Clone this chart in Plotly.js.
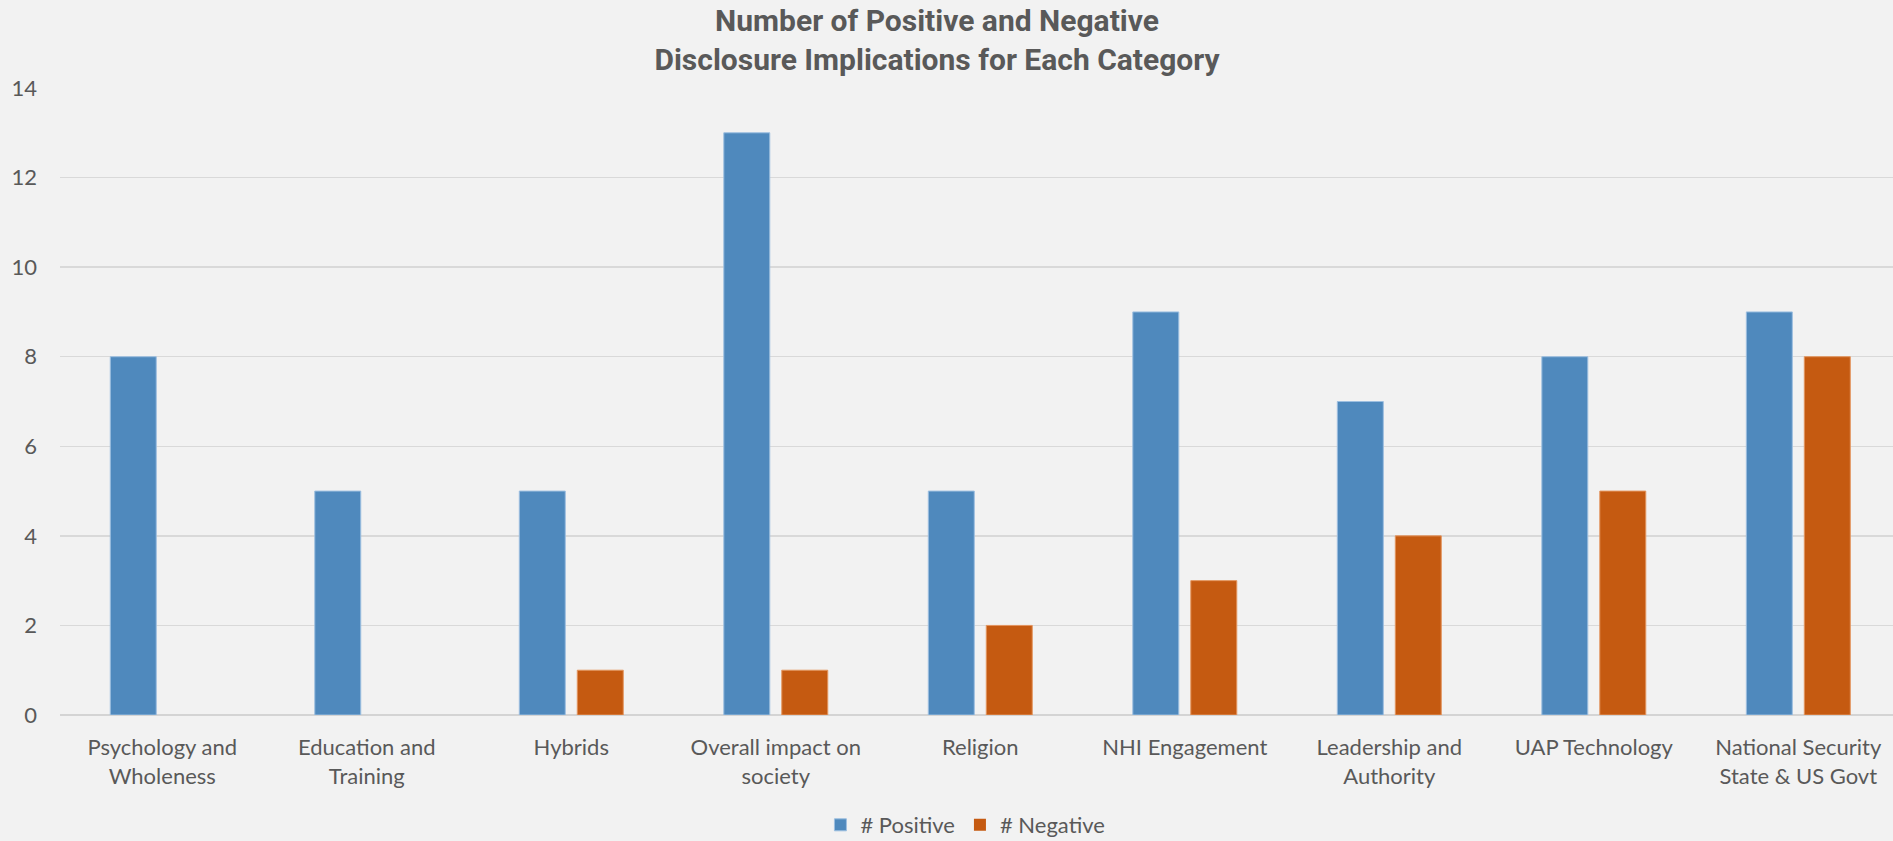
<!DOCTYPE html>
<html>
<head>
<meta charset="utf-8">
<script src="https://cdn.plot.ly/plotly-3.0.1.min.js"></script>
<style>
  html, body { margin: 0; padding: 0; background: #F2F2F2; }
  #chart { width: 1893px; height: 841px; }
</style>
</head>
<body>
<div id="chart"></div>
<script>
const categories = [
  "Psychology and<br>Wholeness",
  "Education and<br>Training",
  "Hybrids",
  "Overall impact on<br>society",
  "Religion",
  "NHI Engagement",
  "Leadership and<br>Authority",
  "UAP Technology",
  "National Security<br>State & US Govt"
];
const positive = [8, 5, 5, 13, 5, 9, 7, 8, 9];
const negative = [0, 0, 1, 1, 2, 3, 4, 5, 8];
const yTicks = [0, 2, 4, 6, 8, 10, 12, 14];

const txtColor = "#595959";
const labelFont = { family: "Lato, 'Open Sans', sans-serif", size: 22, color: txtColor };
const edge = vals => vals.map(v => (v ? 1 : 0));

const traces = [
  {
    type: "bar", name: "# Positive", x: categories, y: positive,
    marker: { color: "#4F89BD", line: { color: "#9DBFE0", width: edge(positive) } },
    hoverinfo: "x+y"
  },
  {
    type: "bar", name: "# Negative", x: categories, y: negative,
    marker: { color: "#C55A11", line: { color: "#E3955E", width: edge(negative) } },
    hoverinfo: "x+y"
  }
];

const layout = {
  width: 1893, height: 841,
  paper_bgcolor: "#F2F2F2", plot_bgcolor: "#F2F2F2",
  margin: { l: 60, r: 0, t: 88, b: 126 },
  barmode: "group", bargap: 0.433, bargroupgap: 0.207,
  title: {
    text: "<b>Number of Positive and Negative<br>Disclosure Implications for Each Category</b>",
    font: { family: "Roboto, sans-serif", size: 30, color: txtColor },
    x: 0.495, xanchor: "center", xref: "container",
    y: 0.963, yanchor: "middle", yref: "container"
  },
  xaxis: {
    type: "category", range: [-0.5, 8.463],
    showgrid: false, zeroline: false, showline: false, ticks: "",
    tickfont: labelFont, ticklabelstandoff: 17, fixedrange: true
  },
  yaxis: {
    range: [0, 14], tickvals: yTicks, ticktext: yTicks.map(String),
    showgrid: true, gridcolor: "#D9D9D9", gridwidth: 1.5,
    zeroline: true, zerolinecolor: "#D4D4D4", zerolinewidth: 2,
    showline: false, ticks: "", tickfont: labelFont, ticklabelstandoff: 22,
    fixedrange: true
  },
  showlegend: true,
  legend: {
    orientation: "h", x: 0.51, xanchor: "center", xref: "container",
    y: 0.019, yanchor: "middle", yref: "container",
    font: labelFont, bgcolor: "rgba(0,0,0,0)", itemwidth: 30,
    traceorder: "normal"
  }
};

Plotly.newPlot("chart", traces, layout, { displayModeBar: false, staticPlot: true });
</script>
</body>
</html>
